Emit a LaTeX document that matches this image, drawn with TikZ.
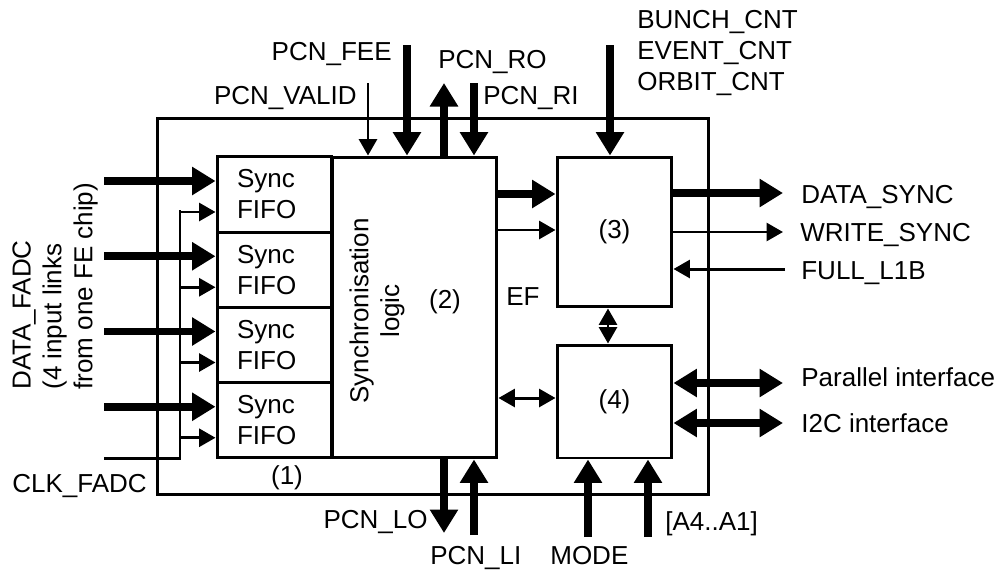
\documentclass[tikz,border=0pt]{standalone}
\usepackage{fontspec}
\setmainfont{Liberation Sans}
\usetikzlibrary{arrows.meta}

\begin{document}
\begin{tikzpicture}[x=0.02cm, y=-0.02cm,
    font=\fontsize{14.8}{17.6}\selectfont,
    box/.style={draw, line width=1.7pt, inner sep=0pt},
    lbl/.style={inner sep=0pt},
    thk/.style={line width=4.5pt, >={Triangle[length=0.47cm, width=0.54cm]}},
    thn/.style={line width=1.7pt, >={Triangle[length=0.33cm, width=0.36cm]}}]
  \useasboundingbox (0,0) rectangle (1002,569);
  % chip outline
  \node[box, minimum width=11.04cm, minimum height=7.54cm] (chip) at (433,306.5) {};
  % synchronisation logic (2)
  \node[box, minimum width=3.3cm, minimum height=6.02cm] (sync) at (414.5,307.5) {};
  \node[lbl, rotate=90, align=center] (synctxt) at (377,311) {Synchronisation\\logic};
  \node[lbl] (n2) at (445,302) {(2)};
  % blocks (3) and (4)
  \node[box, minimum width=2.3cm, minimum height=3cm] (blk3) at (614.5,232) {(3)};
  \node[box, minimum width=2.3cm, minimum height=2.26cm] (blk4) at (614.5,401.5) {(4)};
  % sync FIFOs (1)
  \foreach \i in {1,...,4} {
    \pgfmathsetmacro\yc{194.5+75.25*(\i-1)}
    \pgfmathsetmacro\ya{\yc-13.5}
    \pgfmathsetmacro\yb{\yc+17.5}
    \node[box, minimum width=2.3cm, minimum height=1.505cm, text width=1.5cm,
          align=left, inner xsep=0.4cm] (fifo\i) at (274.5,\yc) {Sync\\FIFO};
    \draw[thk,->] (104,\ya) -- (104,\ya -| fifo\i.west);
    \draw[thn,->] (180,\yb) -- (180,\yb -| fifo\i.west);
  }
  % clock bus
  \coordinate (clk) at (180,458);
  \draw[thn] (104,458) -- (clk) -- (180,210);
  \node[lbl, anchor=base west] (clklbl) at (12,492) {CLK\_FADC};
  \node[lbl] (n1) at (287,478) {(1)};
  \node[lbl, rotate=90, align=left, anchor=north west] (datalbl) at (12,390)
       {DATA\_FADC\\(4 input links\\from one FE chip)};
  % top inputs
  \draw[thn,->] (368,83) -- (368,0 |- sync.north);
  \draw[thk,->] (407,45) -- (407,0 |- sync.north);
  \draw[thk,->] (444,0 |- sync.north) -- (444,83);
  \draw[thk,->] (474,83) -- (474,0 |- sync.north);
  \draw[thk,->] (610,45) -- (610,0 |- blk3.north);
  \node[lbl, anchor=base east] (valid) at (357,104) {PCN\_VALID};
  \node[lbl, anchor=base east] (fee) at (392,60) {PCN\_FEE};
  \node[lbl, anchor=base west] (ro) at (438,68) {PCN\_RO};
  \node[lbl, anchor=base west] (ri) at (483,104) {PCN\_RI};
  \node[lbl, align=left, anchor=north west] (cnt) at (637,10)
       {BUNCH\_CNT\\EVENT\_CNT\\ORBIT\_CNT};
  % internal links
  \draw[thk,->] (sync.east |- 0,194) -- (blk3.west |- 0,194);
  \draw[thn,->] (sync.east |- 0,230) -- (blk3.west |- 0,230);
  \draw[thn,<->] (sync.east |- 0,398) -- (blk4.west |- 0,398);
  \draw[thn,<->] (608,0 |- blk3.south) -- (608,0 |- blk4.north);
  \node[lbl, anchor=base west] (ef) at (506,305) {EF};
  % outputs
  \draw[thk,->] (blk3.east |- 0,193) -- (783,193);
  \draw[thn,->] (blk3.east |- 0,232) -- (783,232);
  \draw[thn,->] (785,269) -- (blk3.east |- 0,269);
  \draw[thk,<->] (blk4.east |- 0,383) -- (783,383);
  \draw[thk,<->] (blk4.east |- 0,423) -- (783,423);
  \node[lbl, anchor=base west] (dsync) at (801,203) {DATA\_SYNC};
  \node[lbl, anchor=base west] (wsync) at (800,241) {WRITE\_SYNC};
  \node[lbl, anchor=base west] (full) at (801,279) {FULL\_L1B};
  \node[lbl, anchor=base west] (par) at (801,386) {Parallel interface};
  \node[lbl, anchor=base west] (i2c) at (801,432) {I2C interface};
  % bottom
  \draw[thk,->] (444,0 |- sync.south) -- (444,533);
  \draw[thk,->] (474,535) -- (474,0 |- sync.south);
  \draw[thk,->] (588,537) -- (588,0 |- blk4.south);
  \draw[thk,->] (648,537) -- (648,0 |- blk4.south);
  \node[lbl, anchor=base east] (lo) at (428,528) {PCN\_LO};
  \node[lbl, anchor=base west] (li) at (430,564) {PCN\_LI};
  \node[lbl, anchor=base west] (mode) at (550,564) {MODE};
  \node[lbl, anchor=base west] (addr) at (665,530) {[A4..A1]};
\end{tikzpicture}
\end{document}
